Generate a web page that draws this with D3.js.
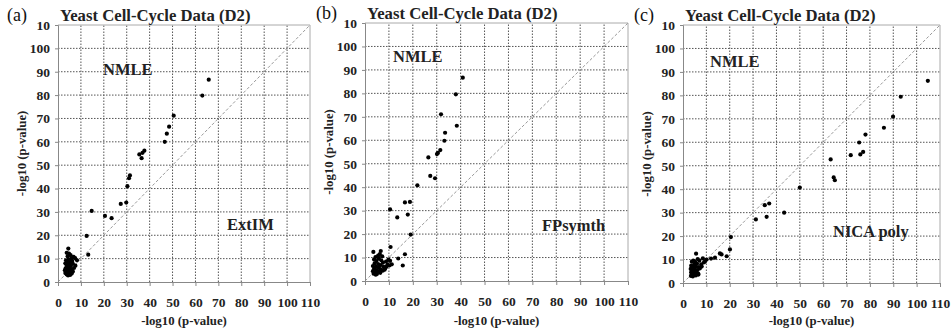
<!DOCTYPE html>
<html>
<head>
<meta charset="utf-8">
<script src="https://cdn.jsdelivr.net/npm/d3@7"></script>
<style>
  body { margin: 0; background: #fff; }
  svg { display: block; }
</style>
</head>
<body>
<div id="chart"></div>
<script>
// Tick values and labels (the top y label reads "10" in the source figure)
const tickValues = d3.range(0, 111, 10);
const xTickLabels = ["0", "10", "20", "30", "40", "50", "60", "70", "80", "90", "100", "110"];
const yTickLabels = ["0", "10", "20", "30", "40", "50", "60", "70", "80", "90", "100", "10"];

const panelLetters = ["(a)", "(b)", "(c)"];
const methodNames = ["ExtIM", "FPsymth", "NICA poly"];
const title = "Yeast Cell-Cycle Data (D2)";
const axisTitle = "-log10 (p-value)";
const refName = "NMLE";

// [x = method -log10 p, y = NMLE -log10 p]
const extimPoints = [
  [65.8, 86.6], [63, 79.8], [50.5, 71.2], [48.5, 66.5], [47.5, 63.5], [46.6, 60],
  [37.7, 56.2], [35.5, 54.6], [36.5, 53], [36.9, 55.3], [31.4, 45.6], [31, 44.4],
  [30.3, 41], [29.8, 34], [27.4, 33.4], [14.7, 30.4], [20.5, 28.3], [23.4, 27.3],
  [12.5, 19.7], [13.2, 11.7],
  [4.5, 14.3], [3.8, 12.5], [4.8, 12.2], [4.2, 11], [5.5, 11.5], [6.8, 10.8], [7.5, 10.2],
  [5.8, 10], [4.6, 9.7], [3.5, 9.3], [6.2, 9], [8.3, 9.3], [4, 8.5], [5.2, 8.2], [3.2, 8],
  [4.8, 7.5], [6.5, 7.8], [7.6, 7], [3.8, 7], [5.6, 6.8], [4.2, 6.2], [3.3, 5.8], [5, 5.6],
  [6, 5.4], [4.5, 5], [3.6, 4.6], [5.4, 4.4], [4.1, 4], [3.2, 3.8], [4.8, 3.5], [6, 3.6],
  [3.8, 3.2], [5.3, 3], [4.4, 2.8], [6.5, 4.5], [7, 6], [3, 5], [5.8, 8.8]
];

const fpsymthPoints = [
  [40.9, 86.7], [38, 79.6], [31.8, 71.1], [38.4, 66.2], [33.5, 63.2], [33.2, 59.8],
  [31.5, 55.8], [30.5, 54.6], [30.1, 54.1], [26.5, 52.7], [27.3, 44.8], [29.3, 43.8],
  [21.9, 40.8], [16.7, 33.5], [18.8, 33.7], [10.5, 30.5], [13.5, 27.1], [17.9, 28.3],
  [19.1, 19.8], [10.7, 14.5], [13.9, 9.6], [16.7, 11.4], [15.8, 6.6],
  [3.5, 12.4], [6.6, 12.8], [6.2, 11.5], [5.5, 10.8], [7.2, 10.5], [4.4, 10.2], [9.8, 9.1],
  [10.5, 8.6], [8.8, 8.3], [5.8, 9.5], [3.8, 9.2], [6.8, 8.8], [4.8, 8.5], [7.5, 7.8],
  [9.5, 7], [11.2, 7.1], [10.2, 6.6], [4, 7.5], [5.5, 7.2], [6.6, 6.8], [3.3, 6.4],
  [4.6, 6.1], [7.8, 6], [5.8, 5.6], [8.5, 5.4], [3.8, 5.2], [6.6, 5], [4.8, 4.6], [7.4, 4.4],
  [3.3, 4.2], [5.6, 4], [4.2, 3.6], [6.4, 3.5], [3.6, 3.1], [5, 3], [4.5, 2.7], [8.2, 4.8],
  [9, 6.2]
];

const nicaPoints = [
  [104.8, 86.2], [93.2, 79.4], [89.9, 70.9], [86, 66.2], [78.1, 63.3], [75.4, 59.9],
  [77.1, 55.9], [75.9, 54.8], [71.8, 54.5], [63.2, 52.7], [64.5, 45], [65, 43.8],
  [50, 40.7], [36.9, 33.9], [35, 33.2], [43.3, 30], [35.8, 28.2], [31.2, 27.1],
  [20.5, 19.6], [20.1, 14.3], [18.7, 11.4], [15.8, 12.6], [16.5, 12.2], [13.7, 10.8],
  [12, 10.4], [10.1, 10],
  [5.6, 12.5], [4.4, 9.5], [3.8, 9.1], [5.2, 9], [7, 9.5], [8.5, 10.5], [6.3, 10.2],
  [9, 8.8], [7.8, 8], [6, 8.2], [4.8, 7.8], [3.5, 7.4], [5.5, 7], [6.8, 6.8], [4.2, 6.5],
  [3.3, 6], [5, 5.8], [6.2, 5.5], [4, 5.2], [3.5, 4.6], [4.8, 4.4], [5.8, 4.2], [7.2, 6.2],
  [3.7, 3.8], [4.6, 3.5], [5.5, 3.2], [3.4, 3], [4.2, 2.8], [6.5, 4], [8, 7], [5, 6.6],
  [4.4, 4.9], [6.6, 3.6], [9.4, 9.2]
];

const width = 951;
const height = 333;

const svg = d3.select("#chart")
  .append("svg")
  .attr("width", width)
  .attr("height", height)
  .attr("viewBox", [0, 0, width, height]);

const serif = "'Liberation Serif', 'Times New Roman', serif";

// Per-panel plot boxes (pixels) and text offsets
const panels = [
  { points: extimPoints, x0: 58, x1: 310, y0: 282, y1: 25, letterX: 7, ref: [45, 50], meth: [169, 205] },
  { points: fpsymthPoints, x0: 365, x1: 628, y0: 281, y1: 23, letterX: 316, ref: [28, 39], meth: [177, 208] },
  { points: nicaPoints, x0: 683, x1: 940, y0: 283, y1: 25, letterX: 634, ref: [27, 42], meth: [150, 212] }
];

panels.forEach((p, i) => {
  const x = d3.scaleLinear().domain([0, 110]).range([p.x0, p.x1]);
  const y = d3.scaleLinear().domain([0, 110]).range([p.y0, p.y1]);
  const g = svg.append("g");

  // Grid
  g.append("g")
    .attr("stroke", "#555")
    .attr("stroke-width", 1)
    .attr("stroke-dasharray", "1.5,1.5")
    .call(g => g.selectAll(".v")
      .data(tickValues.slice(1, -1))
      .join("line")
      .attr("x1", d => x(d)).attr("x2", d => x(d))
      .attr("y1", y(0)).attr("y2", y(110)))
    .call(g => g.selectAll(".h")
      .data(tickValues.slice(1, -1))
      .join("line")
      .attr("x1", x(0)).attr("x2", x(110))
      .attr("y1", d => y(d)).attr("y2", d => y(d)));

  // Frame (top & right)
  g.append("path")
    .attr("fill", "none")
    .attr("stroke", "#aaa")
    .attr("d", `M${x(0)},${y(110)}H${x(110)}V${y(0)}`);

  // Diagonal reference line
  g.append("line")
    .attr("x1", x(0)).attr("y1", y(0))
    .attr("x2", x(110)).attr("y2", y(110))
    .attr("stroke", "#999")
    .attr("stroke-dasharray", "3,2");

  // Axes
  const xAxis = g.append("g")
    .attr("transform", `translate(0,${y(0)})`)
    .call(d3.axisBottom(x).tickValues(tickValues).tickSize(4).tickPadding(11)
      .tickFormat((d, j) => xTickLabels[j]));
  const yAxis = g.append("g")
    .attr("transform", `translate(${x(0)},0)`)
    .call(d3.axisLeft(y).tickValues(tickValues).tickSize(3).tickPadding(5)
      .tickFormat((d, j) => yTickLabels[j]));

  [xAxis, yAxis].forEach(a => {
    a.attr("font-family", serif).attr("font-size", 13.5).attr("font-weight", "bold");
    a.selectAll(".domain").attr("stroke", "#888");
    a.selectAll(".tick line").attr("stroke", "#888");
    a.selectAll(".tick text").attr("fill", "#222");
  });

  // Points
  g.append("g")
    .attr("fill", "#000")
    .selectAll("circle")
    .data(p.points)
    .join("circle")
    .attr("cx", d => x(d[0]))
    .attr("cy", d => y(d[1]))
    .attr("r", 2.1);

  // Texts
  g.append("text")
    .attr("x", p.letterX).attr("y", p.y1 - 4)
    .attr("font-family", serif).attr("font-size", 18)
    .attr("fill", "#111")
    .text(panelLetters[i]);

  g.append("text")
    .attr("x", p.x0 + 2).attr("y", p.y1 - 4)
    .attr("font-family", serif).attr("font-size", 16.7).attr("font-weight", "bold")
    .attr("fill", "#222")
    .text(title);

  g.append("text")
    .attr("x", p.x0 + p.ref[0]).attr("y", p.y1 + p.ref[1])
    .attr("font-family", serif).attr("font-size", 16.5).attr("font-weight", "bold")
    .attr("fill", "#222")
    .text(refName);

  g.append("text")
    .attr("x", p.x0 + p.meth[0]).attr("y", p.y1 + p.meth[1])
    .attr("font-family", serif).attr("font-size", 16.5).attr("font-weight", "bold")
    .attr("fill", "#222")
    .text(methodNames[i]);

  g.append("text")
    .attr("x", (p.x0 + p.x1) / 2).attr("y", 325)
    .attr("text-anchor", "middle")
    .attr("font-family", serif).attr("font-size", 12.8).attr("font-weight", "bold")
    .attr("fill", "#222")
    .text(axisTitle);

  g.append("text")
    .attr("transform", `translate(${p.x0 - 32},${(p.y0 + p.y1) / 2}) rotate(-90)`)
    .attr("text-anchor", "middle")
    .attr("font-family", serif).attr("font-size", 12.8).attr("font-weight", "bold")
    .attr("fill", "#222")
    .text(axisTitle);
});
</script>
</body>
</html>
